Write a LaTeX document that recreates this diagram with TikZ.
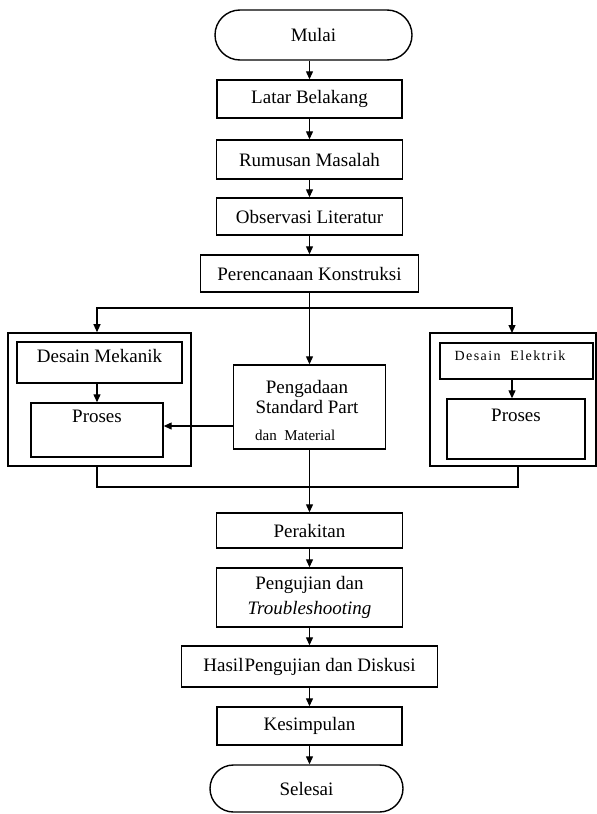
\documentclass[tikz,border=0pt]{standalone}
\usepackage{fontspec}
\setmainfont{Liberation Serif}
\usetikzlibrary{arrows.meta,shapes.misc}
\begin{document}
\begin{tikzpicture}[x=1pt,y=-1pt,
  box/.style={draw, line width=1.4pt, inner sep=0pt, font=\fontsize{19}{23}\selectfont},
  term/.style={draw, rounded rectangle, line width=1.4pt, inner sep=0pt, font=\fontsize{19}{23}\selectfont},
  outer/.style={draw, line width=1.6pt, inner sep=0pt},
  txt/.style={inner sep=0pt, font=\fontsize{19}{23}\selectfont},
  conn/.style={line width=1.2pt},
  arr/.style={conn, -{Triangle[length=8pt,width=7pt]}}
]
\useasboundingbox (0,0) rectangle (597,814);
% main column
\node[term, minimum width=197pt, minimum height=50pt] (mulai) at (313.5,35) {Mulai};
\node[box, minimum width=185pt, minimum height=38pt] (latar) at (309.5,99) {Latar Belakang};
\node[box, minimum width=186pt, minimum height=39pt] (rumusan) at (309.5,159.5) {Rumusan Masalah};
\node[box, minimum width=186pt, minimum height=37pt] (observasi) at (309.5,216.5) {Observasi Literatur};
\node[box, minimum width=218pt, minimum height=37pt] (perencanaan) at (309.5,273.5) {Perencanaan Konstruksi};
% left group
\node[outer, minimum width=183pt, minimum height=133pt] (leftouter) at (99.5,399.5) {};
\node[box, minimum width=165pt, minimum height=41pt] (desmek) at (99.5,362.5) {};
\node[txt] (tdesmek) at (99.5,356) {Desain Mekanik};
\node[box, minimum width=132pt, minimum height=54pt] (prosesL) at (97,430) {};
\node[txt] (tprosesL) at (97,416) {Proses};
% middle
\node[box, minimum width=152pt, minimum height=84pt] (pengadaan) at (309.5,407) {};
\node[txt, align=center, font=\fontsize{19}{20}\selectfont] (tpeng) at (307,397) {Pengadaan\\Standard Part};
\node[txt, anchor=west, font=\fontsize{15}{17}\selectfont] (tdan) at (255,435) {dan\ \ Material};
% right group
\node[outer, minimum width=166pt, minimum height=133pt] (rightouter) at (513,399.5) {};
\node[box, minimum width=153pt, minimum height=36pt] (desel) at (516.5,361) {};
\node[txt, font=\fontsize{14}{16}\selectfont\addfontfeature{LetterSpace=10}] (tdesel) at (510,356) {Desain\ \ Elektrik};
\node[box, minimum width=138pt, minimum height=60pt] (prosesR) at (516,429) {};
\node[txt] (tprosesR) at (516,415) {Proses};
% lower column
\node[box, minimum width=186pt, minimum height=35pt] (perakitan) at (309.5,530.5) {Perakitan};
\node[box, minimum width=186pt, minimum height=59pt, align=center, font=\fontsize{19}{25}\selectfont] (pengujian) at (309.5,597.5) {Pengujian dan\\\textit{Troubleshooting}};
\node[box, minimum width=256pt, minimum height=41pt] (hasil) at (309.5,666.5) {Hasil\kern1pt Pengujian dan Diskusi};
\node[box, minimum width=185pt, minimum height=38pt] (kesimpulan) at (309.5,726) {Kesimpulan};
\node[term, minimum width=193pt, minimum height=47pt] (selesai) at (306.5,788.5) {Selesai};
% coordinates
\coordinate (br) at (309.5,308);
\coordinate (rarr) at (512,333);
\coordinate (mg) at (309.5,487);
\coordinate (rm) at (518,466);
\coordinate (pa) at ([yshift=-19pt]pengadaan.west);
% connectors
\draw[arr] (latar.north |- mulai.south) -- (latar.north);
\draw[arr] (latar.south) -- (rumusan.north);
\draw[arr] (rumusan.south) -- (observasi.north);
\draw[arr] (observasi.south) -- (perencanaan.north);
\draw[arr] (perencanaan.south) -- (pengadaan.north);
\draw[arr] (br) -| (prosesL.north |- leftouter.north);
\draw[arr] (br) -| (rarr);
\draw[arr] (prosesL.north |- desmek.south) -- (prosesL.north);
\draw[arr] (rarr |- desel.south) -- (rarr |- prosesR.north);
\draw[arr] (pa) -- (pa -| prosesL.east);
\draw[conn] (prosesL.north |- leftouter.south) |- (mg);
\draw[conn] (rm) |- (mg);
\draw[arr] (pengadaan.south) -- (perakitan.north);
\draw[arr] (perakitan.south) -- (pengujian.north);
\draw[arr] (pengujian.south) -- (hasil.north);
\draw[arr] (hasil.south) -- (kesimpulan.north);
\draw[arr] (kesimpulan.south) -- (kesimpulan.south |- selesai.north);
\end{tikzpicture}
\end{document}
